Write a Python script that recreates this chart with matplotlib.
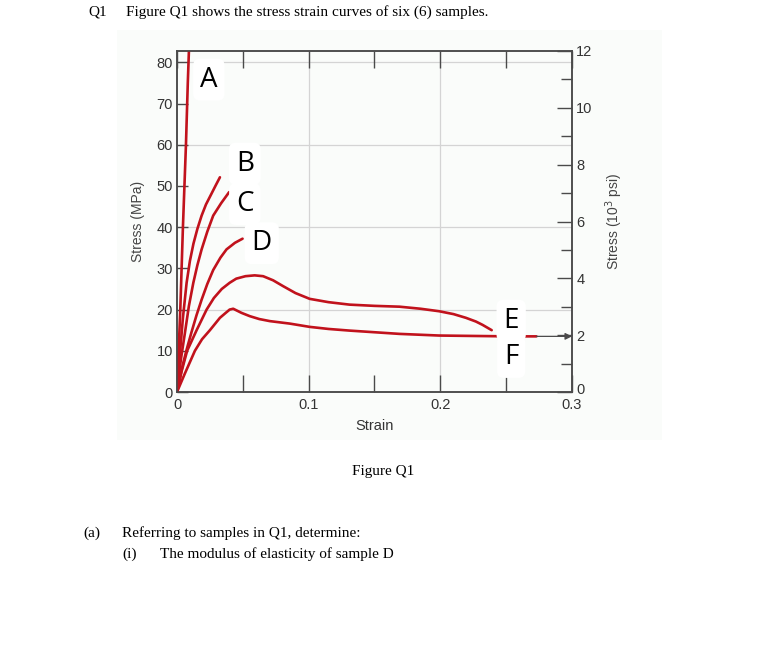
import matplotlib
matplotlib.use('agg')
import matplotlib.pyplot as plt
import matplotlib.transforms as mtransforms
from matplotlib.patches import Rectangle

plt.rcParams['font.family'] = ['Liberation Sans', 'DejaVu Sans']

# curve data (strain, stress in MPa)
a_strain = [0, 0.0025, 0.0045, 0.0068, 0.0082, 0.0094]
a_stress = [0, 20, 40, 60, 75, 86]
b_strain = [0, 0.0012, 0.0025, 0.0045, 0.0073, 0.0098, 0.0125, 0.0155, 0.0187, 0.022, 0.026, 0.0295, 0.0326]
b_stress = [0, 5.5, 10.3, 18.0, 26.5, 31.8, 36.0, 39.6, 42.8, 45.5, 48.0, 50.2, 52.1]
c_strain = [0, 0.0015, 0.003, 0.006, 0.009, 0.0124, 0.0155, 0.0187, 0.023, 0.0275, 0.0335, 0.0396]
c_stress = [0, 4.2, 8.0, 14.3, 20.8, 26.5, 30.8, 34.6, 38.9, 42.8, 45.8, 48.5]
d_strain = [0, 0.0043, 0.0075, 0.011, 0.0148, 0.0187, 0.023, 0.0275, 0.033, 0.0376, 0.044, 0.0498]
d_stress = [0, 6.5, 10.5, 14.5, 18.6, 22.4, 26.2, 29.6, 32.6, 34.6, 36.2, 37.2]
e_strain = [0, 0.0035, 0.0077, 0.0149, 0.0225, 0.028, 0.034, 0.040, 0.045, 0.052, 0.059,
            0.0654, 0.073, 0.0805, 0.09, 0.1008, 0.115, 0.131, 0.15, 0.169, 0.185,
            0.199, 0.21, 0.2194, 0.227, 0.232, 0.239]
e_stress = [0, 5.0, 10.0, 15.0, 20.0, 22.8, 25.0, 26.5, 27.5, 28.1, 28.3,
            28.1, 27.1, 25.7, 24.0, 22.6, 21.8, 21.2, 20.9, 20.7, 20.2,
            19.6, 18.9, 18.0, 17.1, 16.3, 15.0]
f_strain = [0, 0.006, 0.0136, 0.019, 0.025, 0.0326, 0.037, 0.040, 0.0427, 0.049, 0.0553,
            0.0625, 0.0705, 0.0856, 0.1008, 0.115, 0.131, 0.15, 0.169, 0.199,
            0.225, 0.252, 0.273]
f_stress = [0, 4.5, 10.0, 12.8, 15.0, 18.0, 19.2, 20.0, 20.2, 19.2, 18.4,
            17.7, 17.2, 16.6, 15.8, 15.3, 14.9, 14.5, 14.1, 13.7,
            13.6, 13.5, 13.5]

labels = ['A', 'B', 'C', 'D', 'E', 'F']
label_x = [0.0242, 0.0515, 0.0515, 0.0644, 0.2538, 0.2538]
label_y = [75.8, 55.4, 45.6, 36.1, 17.3, 8.5]

x_ticks = [0, 0.1, 0.2, 0.3]
mpa_ticks = [0, 10, 20, 30, 40, 50, 60, 70, 80]
psi_ticks = [0, 2, 4, 6, 8, 10, 12]

MPA_PER_KSI = 6.895
red = '#c1121c'
gray = '#4a4a4a'

fig = plt.figure(figsize=(7.71, 6.68), dpi=100)

# faint background of the pasted picture
fig.patches.append(Rectangle((117/771, 1-440/668), 545/771, 410/668,
                             transform=fig.transFigure, facecolor='#fafcfa',
                             edgecolor='none', zorder=-5))

ax = fig.add_axes([177/771, 1-392/668, 395/771, 341/668])
ax.set_facecolor('none')
ax.set_xlim(0, 0.3)
ax.set_ylim(0, 12*MPA_PER_KSI)

for xs, ys in [(a_strain, a_stress), (b_strain, b_stress), (c_strain, c_stress),
               (d_strain, d_stress), (e_strain, e_stress), (f_strain, f_stress)]:
    ax.plot(xs, ys, color=red, lw=1.9, solid_capstyle='round',
            solid_joinstyle='round', zorder=3)

ax.annotate('', xy=(0.3, f_stress[-1]), xytext=(f_strain[-1], f_stress[-1]),
            arrowprops=dict(arrowstyle='-|>', color=gray, lw=0.9,
                            mutation_scale=10, shrinkA=0, shrinkB=0))

for lab, lx, ly in zip(labels, label_x, label_y):
    ax.text(lx, ly, lab, fontsize=20, family='Open Sans', ha='center', va='center',
            zorder=4, bbox=dict(boxstyle='round,pad=0.25', fc='white', ec='none'))

# grid lines
for g in [20, 40, 60, 80]:
    ax.axhline(g, color='#d4d4d4', lw=0.9, zorder=1)
for g in [0.1, 0.2]:
    ax.axvline(g, color='#d4d4d4', lw=0.9, zorder=1)

ax.set_xticks([0, 0.05, 0.1, 0.15, 0.2, 0.25, 0.3])
ax.set_xticklabels(['0', '', '0.1', '', '0.2', '', '0.3'])
ax.set_yticks(mpa_ticks)
ax.tick_params(axis='x', direction='in', length=12, width=1, color=gray,
               top=True, labelsize=10.5, labelcolor='#333', pad=4)
ax.tick_params(axis='y', direction='in', length=8, width=1, color=gray,
               labelsize=10.5, labelcolor='#333', pad=3)
for s in ax.spines.values():
    s.set_color(gray)
    s.set_linewidth(1.1)

ax.set_xlabel('Strain', fontsize=10.5, color='#333', labelpad=5)
ax.set_ylabel('Stress (MPa)', fontsize=10, color='#444', labelpad=8)

ax2 = ax.twinx()
ax2.set_ylim(0, 12)
ax2.set_yticks(psi_ticks)
ax2.set_yticks([1, 3, 5, 7, 9, 11], minor=True)
ax2.tick_params(axis='y', which='major', direction='in', length=11, width=1,
                color=gray, labelsize=10.5, labelcolor='#333', pad=3)
ax2.tick_params(axis='y', which='minor', direction='in', length=8, width=1,
                color=gray)
for s in ax2.spines.values():
    s.set_color(gray)
    s.set_linewidth(1.1)
ax2.set_ylabel('Stress (10$^3$ psi)', fontsize=10, color='#444', labelpad=8)

# lift the right-hand "0" a little so it clears the "0.3" below it
zero_lab = ax2.get_yticklabels()[0]
zero_lab.set_transform(zero_lab.get_transform() +
                       mtransforms.ScaledTranslation(0, 3/100, fig.dpi_scale_trans))

serif = 'Liberation Serif'
fs = 11
fig.text(88/771, 1-12/668, 'Q1', family=serif, fontsize=fs, va='center')
fig.text(126/771, 1-12/668, 'Figure Q1 shows the stress strain curves of six (6) samples.',
         family=serif, fontsize=fs, va='center')
fig.text(383/771, 1-472/668, 'Figure Q1', family=serif, fontsize=fs,
         ha='center', va='center')
fig.text(83/771, 1-533/668, '(a)', family=serif, fontsize=fs, va='center')
fig.text(122/771, 1-533/668, 'Referring to samples in Q1, determine:',
         family=serif, fontsize=fs, va='center')
fig.text(122/771, 1-554/668, '(i)', family=serif, fontsize=fs, va='center')
fig.text(160/771, 1-554/668, 'The modulus of elasticity of sample D',
         family=serif, fontsize=fs, va='center')

fig.savefig('out.png', dpi=100)
